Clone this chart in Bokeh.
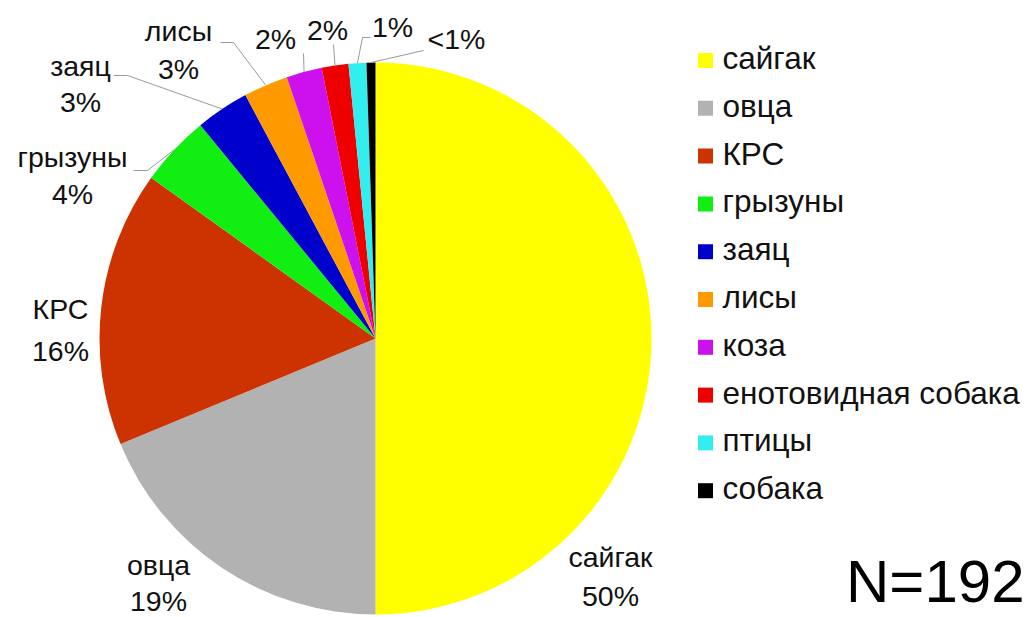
import math
from bokeh.plotting import figure
from bokeh.models import ColumnDataSource, Range1d
from bokeh.core.properties import value
from bokeh.embed import file_html
from bokeh.resources import INLINE

# ---------------- data ----------------
categories = ["сайгак", "овца", "КРС", "грызуны", "заяц", "лисы",
              "коза", "енотовидная собака", "птицы", "собака"]
counts = [96, 36, 31, 8, 6, 5, 4, 3, 2, 1]
colors = ["#FFFF00", "#B2B2B2", "#CC3300", "#11EE11", "#0000CC",
          "#FF9900", "#CC11EE", "#EE0000", "#33EEEE", "#000000"]
total_text = "N=192"

# ---------------- derived ----------------
N = sum(counts)
fracs = [c / N for c in counts]
pct_labels = ["<1%" if f * 100 < 1 else f"{round(f * 100)}%" for f in fracs]

W, H = 1029, 617
FONT = "Liberation Sans"
LBL_FS, LEG_FS, N_FS = 28.5, 31.5, 60
K = 0.4  # empirical baseline correction (fraction of font size)


def Y(yref):
    # convert screenshot y (top-down) to data y (bottom-up)
    return 617 - yref


def TB(yref, fs):
    # data y for a desired text baseline in screenshot pixels
    return Y(yref) + K * fs


CX, CY, R = 375, Y(338), 276

cum = [0.0]
for f in fracs:
    cum.append(cum[-1] + f)
start = [math.pi / 2 - 2 * math.pi * cum[i] for i in range(len(fracs))]
end = [math.pi / 2 - 2 * math.pi * cum[i + 1] for i in range(len(fracs))]
mid = [(s + e) / 2 for s, e in zip(start, end)]

p = figure(width=W, height=H, x_range=Range1d(0, W), y_range=Range1d(0, H),
           output_backend="svg", toolbar_location=None,
           x_axis_location=None, y_axis_location=None, min_border=0)
p.grid.visible = False
p.outline_line_color = None
p.background_fill_color = "white"
p.border_fill_color = "white"

src = ColumnDataSource(dict(x=[CX] * len(counts), y=[CY] * len(counts),
                            start=start, end=end, color=colors, cat=categories))
p.wedge(x="x", y="y", radius=R, start_angle="start", end_angle="end",
        direction="clock", fill_color="color", line_color=None, source=src)

# ---------------- data labels ----------------
# (center x, name baseline, percent baseline) in screenshot pixels
label_pos = [(610, 568, 607), (158, 576, 612), (60, 320, 362), (72, 168, 205),
             (80, 77, 113), (178, 42, 80), (275, 50, None), (327, 41, None),
             (392, 38, None), (456, 50, None)]
show_name = [True, True, True, True, True, True, False, False, False, False]

tx, ty, tt = [], [], []
for i, (lx, yn, yp) in enumerate(label_pos):
    if show_name[i]:
        tx.append(lx); ty.append(TB(yn, LBL_FS)); tt.append(categories[i])
        tx.append(lx); ty.append(TB(yp, LBL_FS)); tt.append(pct_labels[i])
    else:
        tx.append(lx); ty.append(TB(yn, LBL_FS)); tt.append(pct_labels[i])
p.text(x=tx, y=ty, text=tt, text_font=value(FONT), text_font_size=f"{LBL_FS}px",
       text_align="center", text_baseline="alphabetic", text_color="#111111")

# leader lines: label-side points, ending at slice mid-angle on the rim
leader_pts = {3: [(133, 170), (147, 170)], 4: [(113, 75), (127, 75)],
              5: [(220, 42), (233, 42)], 6: [(303, 53)], 7: [(333, 44)],
              8: [(370, 37), (362, 37)], 9: [(423, 50)]}
xs, ys = [], []
for i, pts in leader_pts.items():
    ex = CX + R * math.cos(mid[i])
    ey = CY + R * math.sin(mid[i])
    xs.append([q[0] for q in pts] + [ex])
    ys.append([Y(q[1]) for q in pts] + [ey])
p.multi_line(xs=xs, ys=ys, line_color="#9A9A9A", line_width=1)

# ---------------- legend ----------------
LX, LY0, LDY, SQ = 705, 60, 47.8, 15
leg_rows = [LY0 + i * LDY for i in range(len(categories))]
p.rect(x=[LX] * len(categories), y=[Y(r) for r in leg_rows], width=SQ, height=SQ,
       width_units="screen", height_units="screen", fill_color=colors, line_color=None)
p.text(x=[722] * len(categories), y=[TB(r + 10, LEG_FS) for r in leg_rows], text=categories,
       text_font=value(FONT), text_font_size=f"{LEG_FS}px", text_align="left",
       text_baseline="alphabetic", text_color="#111111")

# ---------------- N ----------------
p.text(x=[1024], y=[TB(605, N_FS)], text=[total_text], text_font=value(FONT),
       text_font_size=f"{N_FS}px", text_align="right", text_baseline="alphabetic",
       text_color="#000000")

open("out.html", "w").write(file_html(p, INLINE))
